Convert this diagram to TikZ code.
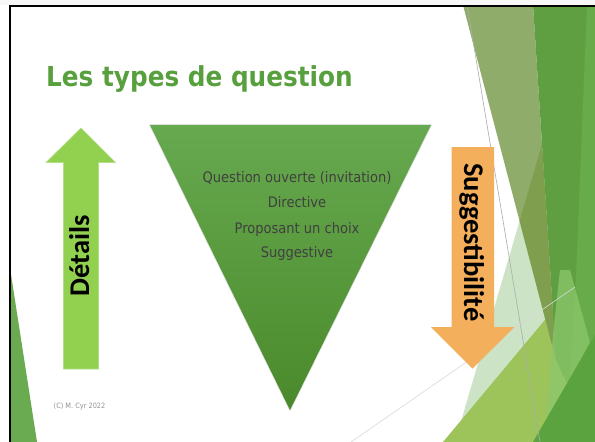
\documentclass[tikz,border=0pt]{standalone}
\usepackage{fontspec}
\setmainfont{DejaVu Sans}
\newfontfamily\titlefont{DejaVu Sans}[FakeStretch=0.9]
\newfontfamily\bodyfont{DejaVu Sans}[FakeStretch=0.9]
\newfontfamily\calfont{Carlito}
\definecolor{titlegreen}{HTML}{58A03E}
\definecolor{arrowgreen}{HTML}{92D050}
\definecolor{arroworange}{HTML}{F3AF5B}
\definecolor{tritop}{HTML}{67A94F}
\definecolor{tribot}{HTML}{4A8A2C}
\definecolor{bodygrey}{HTML}{404040}
\definecolor{palegreen}{HTML}{CCE3C5}
\definecolor{olive}{HTML}{8BA862}
\definecolor{darkolive}{HTML}{7E9E4C}
\definecolor{yelgreen}{HTML}{9DC35B}
\definecolor{midgreen}{HTML}{5F9F42}
\definecolor{lightband}{HTML}{67AB4B}
\definecolor{stripe}{HTML}{8CC86C}
\definecolor{brightgreen}{HTML}{5AA33F}
\definecolor{leftgreen}{HTML}{6AAA50}
\tikzset{
  facet/.style={draw=none},
  qline/.style={anchor=base, inner sep=0, text=bodygrey, font=\bodyfont\fontsize{14.5}{17}\selectfont},
  bigword/.style={anchor=base, inner sep=0, text=black, font=\calfont\bfseries\fontsize{28.5}{34}\selectfont},
}
\begin{document}
\begin{tikzpicture}[x=1pt,y=-1pt]
\useasboundingbox (0,0) rectangle (595,442);
\fill[white] (0,0) rectangle (595,442);
\fill[gray!6] (0,0) rectangle (595,4.5);

% decorative facets (right)
\fill[facet, palegreen] (519.6,221) -- (455,442) -- (579,442) -- cycle;
\fill[facet, yelgreen] (443,442) -- (595,260) -- (595,442) -- cycle;
\fill[facet, olive, opacity=0.95] (463,5) -- (533,5) -- (556,360) -- cycle;
\fill[facet, darkolive, opacity=0.9] (542,144) -- (556,360) -- (519.6,221) -- cycle;
\fill[facet, midgreen] (533,5) -- (595,5) -- (595,442) -- (556,360) -- cycle;
\fill[facet, lightband] (587,5) -- (595,5) -- (595,442) -- (565,442) -- (575,300) -- cycle;
\fill[facet, stripe, opacity=0.75] (560,270) -- (570,270) -- (590,342) -- (546,425) -- (553,335) -- cycle;
\fill[facet, brightgreen] (533,442) -- (595,335) -- (595,442) -- cycle;
% left facet
\fill[facet, leftgreen] (10,268) -- (37,442) -- (10,442) -- cycle;

% thin lines
\coordinate (la) at (467,5);
\coordinate (lb) at (540,442);
\coordinate (lc) at (351,442);
\coordinate (ld) at (575,287);
\draw[gray!65, line width=0.6] (la) -- (lb);
\draw[gray!30, line width=0.6] (lc) -- (ld);

% frame
\draw[black, line width=2] (9.5,442) -- (9.5,5.5) -- (595,5.5);

% title
\node[anchor=base west, inner sep=0, text=titlegreen, font=\titlefont\bfseries\fontsize{27.5}{33}\selectfont] (title) at (46,86) {Les types de question};

% funnel triangle
\draw[black!12, line width=1.6, line join=round] (150,125) -- (431,125) -- (290,410) -- cycle;
\shade[top color=tritop, bottom color=tribot] (150,125) -- (431,125) -- (290,410) -- cycle;
\node[qline] (q1) at (297,182) {Question ouverte (invitation)};
\node[qline] (q2) at (297,207) {Directive};
\node[qline] (q3) at (297,233) {Proposant un choix};
\node[qline] (q4) at (297,257) {Suggestive};

% green up arrow
\fill[arrowgreen, draw=arrowgreen!70!white, line width=0.6]
  (81,128) -- (115.5,162.5) -- (98.5,162.5) -- (98.5,369) -- (63.5,369) -- (63.5,162.5) -- (46,162.5) -- cycle;
\node[bigword, rotate=90] (details) at (89,256) {Détails};

% orange down arrow
\fill[arroworange]
  (451.5,147) -- (494,147) -- (494,327) -- (514.5,327) -- (472.5,368.5) -- (431,327) -- (451.5,327) -- cycle;
\node[bigword, rotate=-90] (sugg) at (464,242.5) {Suggestibilité};

% copyright
\node[anchor=base west, inner sep=0, text=gray!85, font=\bodyfont\fontsize{7.3}{9}\selectfont] (copy) at (53.5,408.5) {(C) M. Cyr 2022};
\end{tikzpicture}
\end{document}
